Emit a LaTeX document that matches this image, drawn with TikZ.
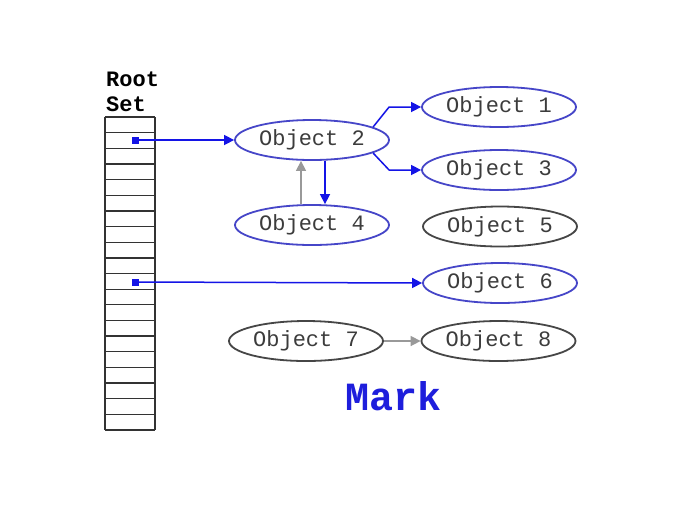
\documentclass[tikz,border=0pt]{standalone}
\usepackage{fontspec}
\setmonofont{Liberation Mono}
\usetikzlibrary{shapes.geometric,arrows.meta}
\definecolor{objblue}{RGB}{70,70,200}
\definecolor{lineblue}{RGB}{20,20,230}
\definecolor{objgray}{RGB}{70,70,70}
\definecolor{txtgray}{RGB}{60,60,60}
\definecolor{markblue}{RGB}{30,30,220}
\begin{document}
\begin{tikzpicture}[x=1pt,y=-1pt,
  obj/.style={ellipse,draw,line width=1.8pt,minimum width=154pt,minimum height=40pt,inner sep=0pt,
    font=\ttfamily\fontsize{22}{24}\selectfont,text=txtgray},
  live/.style={obj,draw=objblue},
  dead/.style={obj,draw=objgray},
  bluearrow/.style={draw=lineblue,line width=1.5pt,-{Triangle[length=10pt,width=10pt]}},
  grayarrow/.style={draw=gray!80,line width=1.5pt,-{Triangle[length=10pt,width=10pt]}},
  dot/.style={fill=lineblue,minimum size=7pt,inner sep=0pt,rectangle},
  rootlbl/.style={font=\ttfamily\bfseries\fontsize{22}{24}\selectfont,anchor=base west,inner sep=0pt}]
\useasboundingbox[fill=white] (0,0) rectangle (684,507);
% root set
\node[rootlbl] (root) at (106,86) {Root};
\node[rootlbl] (set) at (106,111.5) {Set};
\foreach \i in {0,...,20}{
  \draw[line width=1.3pt,black!80] (105,{117+\i*15.65}) -- (155,{117+\i*15.65});
}
\draw[line width=1.3pt,black!80] (105,117) -- (105,430) (155,117) -- (155,430);
\node[dot] (d1) at (135,140) {};
\node[dot] (d2) at (135,282) {};
% objects
\node[live] (o2) at (312,140) {Object 2};
\node[live] (o1) at (499,107) {Object 1};
\node[live] (o3) at (499,170) {Object 3};
\node[live] (o4) at (312,225) {Object 4};
\node[dead] (o5) at (500,226.5) {Object 5};
\node[live] (o6) at (500,283) {Object 6};
\node[dead] (o7) at (306,341) {Object 7};
\node[dead] (o8) at (498.5,341) {Object 8};
% connectors
\draw[bluearrow] (d1.center) -- (o2.west);
\draw[bluearrow] (d2.center) -- (o6.west);
\draw[bluearrow] (o2.12) -- ([xshift=-32pt]o1.west) -- (o1.west);
\draw[bluearrow] (o2.-12) -- ([xshift=-32pt]o3.west) -- (o3.west);
\draw[bluearrow] ([xshift=13pt]o2.south) -- ([xshift=13pt]o4.north);
\draw[grayarrow] ([xshift=-11pt]o4.north) -- ([xshift=-11pt]o2.south);
\draw[grayarrow] (o7.east) -- (o8.west);
% title
\node[font=\ttfamily\bfseries\fontsize{40}{42}\selectfont,text=markblue] (mark) at (394,396) {Mark};
\end{tikzpicture}
\end{document}
